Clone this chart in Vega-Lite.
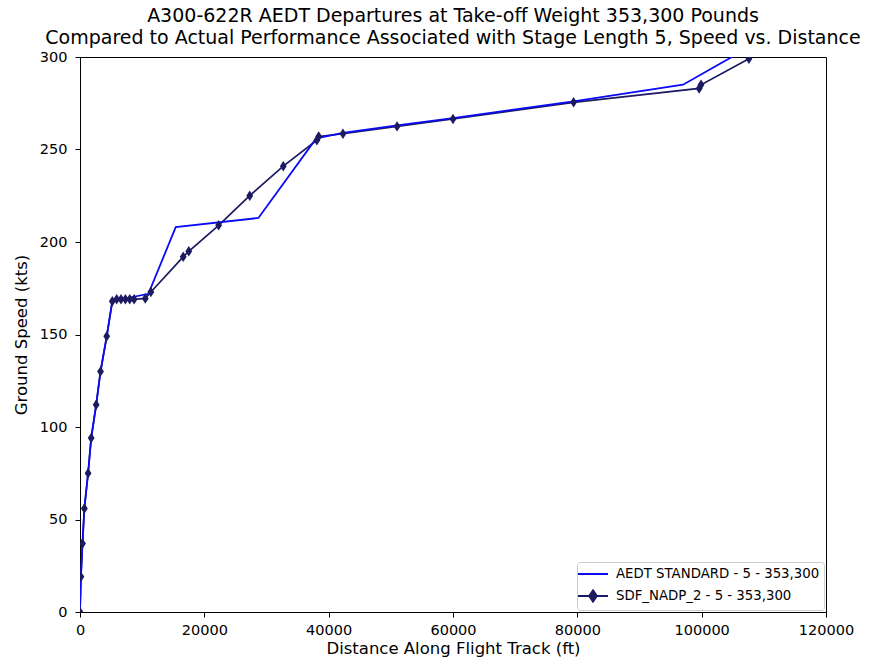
{
  "$schema": "https://vega.github.io/schema/vega-lite/v6.json",
  "autosize": "none",
  "width": 746,
  "height": 555,
  "padding": {"left": 80, "top": 57, "right": 60, "bottom": 55},
  "background": "white",
  "config": {
    "font": "DejaVu Sans",
    "view": {"stroke": "black", "strokeWidth": 1},
    "axis": {
      "domainColor": "black", "tickColor": "black", "tickSize": 5, "grid": false,
      "labelFont": "DejaVu Sans", "labelFontSize": 14.5, "labelColor": "black",
      "titleFont": "DejaVu Sans", "titleFontSize": 16.5, "titleFontWeight": "normal", "titleColor": "black",
      "labelFlush": false, "labelOverlap": false
    },
    "legend": {
      "title": null, "orient": "bottom-right", "offset": 2,
      "labelFont": "DejaVu Sans", "labelFontSize": 13.3, "labelColor": "black", "labelLimit": 400,
      "symbolSize": 196, "symbolStrokeWidth": 2, "symbolOffset": 4, "labelOffset": 15,
      "strokeColor": "#cccccc", "fillColor": "white", "cornerRadius": 3,
      "padding": 4, "rowPadding": 5
    },
    "title": {"font": "DejaVu Sans", "fontSize": 19, "fontWeight": "normal", "color": "black", "anchor": "middle", "offset": 1, "lineHeight": 22}
  },
  "title": {"text": ["A300-622R AEDT Departures at Take-off Weight 353,300 Pounds", "Compared to Actual Performance Associated with Stage Length 5, Speed vs. Distance"]},
  "data": {"values": [
    {"series": "SDF_NADP_2 - 5 - 353,300", "order": 1, "x": 0, "y": 0},
    {"series": "SDF_NADP_2 - 5 - 353,300", "order": 2, "x": 150, "y": 19},
    {"series": "SDF_NADP_2 - 5 - 353,300", "order": 3, "x": 400, "y": 37},
    {"series": "SDF_NADP_2 - 5 - 353,300", "order": 4, "x": 700, "y": 56},
    {"series": "SDF_NADP_2 - 5 - 353,300", "order": 5, "x": 1300, "y": 75},
    {"series": "SDF_NADP_2 - 5 - 353,300", "order": 6, "x": 1800, "y": 94},
    {"series": "SDF_NADP_2 - 5 - 353,300", "order": 7, "x": 2600, "y": 112},
    {"series": "SDF_NADP_2 - 5 - 353,300", "order": 8, "x": 3300, "y": 130},
    {"series": "SDF_NADP_2 - 5 - 353,300", "order": 9, "x": 4300, "y": 149},
    {"series": "SDF_NADP_2 - 5 - 353,300", "order": 10, "x": 5200, "y": 168},
    {"series": "SDF_NADP_2 - 5 - 353,300", "order": 11, "x": 5900, "y": 169},
    {"series": "SDF_NADP_2 - 5 - 353,300", "order": 12, "x": 6600, "y": 169},
    {"series": "SDF_NADP_2 - 5 - 353,300", "order": 13, "x": 7300, "y": 169},
    {"series": "SDF_NADP_2 - 5 - 353,300", "order": 14, "x": 8000, "y": 169},
    {"series": "SDF_NADP_2 - 5 - 353,300", "order": 15, "x": 8700, "y": 169},
    {"series": "SDF_NADP_2 - 5 - 353,300", "order": 16, "x": 10500, "y": 169.5},
    {"series": "SDF_NADP_2 - 5 - 353,300", "order": 17, "x": 11400, "y": 173},
    {"series": "SDF_NADP_2 - 5 - 353,300", "order": 18, "x": 16600, "y": 192},
    {"series": "SDF_NADP_2 - 5 - 353,300", "order": 19, "x": 17500, "y": 195},
    {"series": "SDF_NADP_2 - 5 - 353,300", "order": 20, "x": 22300, "y": 209},
    {"series": "SDF_NADP_2 - 5 - 353,300", "order": 21, "x": 27300, "y": 225},
    {"series": "SDF_NADP_2 - 5 - 353,300", "order": 22, "x": 32700, "y": 241},
    {"series": "SDF_NADP_2 - 5 - 353,300", "order": 23, "x": 38100, "y": 255},
    {"series": "SDF_NADP_2 - 5 - 353,300", "order": 24, "x": 38400, "y": 257},
    {"series": "SDF_NADP_2 - 5 - 353,300", "order": 25, "x": 42300, "y": 258.5},
    {"series": "SDF_NADP_2 - 5 - 353,300", "order": 26, "x": 51000, "y": 262.5},
    {"series": "SDF_NADP_2 - 5 - 353,300", "order": 27, "x": 60000, "y": 266.5},
    {"series": "SDF_NADP_2 - 5 - 353,300", "order": 28, "x": 79400, "y": 275.5},
    {"series": "SDF_NADP_2 - 5 - 353,300", "order": 29, "x": 99600, "y": 283},
    {"series": "SDF_NADP_2 - 5 - 353,300", "order": 30, "x": 99900, "y": 285},
    {"series": "SDF_NADP_2 - 5 - 353,300", "order": 31, "x": 107600, "y": 299},
    {"series": "AEDT STANDARD - 5 - 353,300", "order": 1, "x": 0, "y": 0},
    {"series": "AEDT STANDARD - 5 - 353,300", "order": 2, "x": 150, "y": 19},
    {"series": "AEDT STANDARD - 5 - 353,300", "order": 3, "x": 400, "y": 37},
    {"series": "AEDT STANDARD - 5 - 353,300", "order": 4, "x": 700, "y": 56},
    {"series": "AEDT STANDARD - 5 - 353,300", "order": 5, "x": 1300, "y": 75},
    {"series": "AEDT STANDARD - 5 - 353,300", "order": 6, "x": 1800, "y": 94},
    {"series": "AEDT STANDARD - 5 - 353,300", "order": 7, "x": 2600, "y": 112},
    {"series": "AEDT STANDARD - 5 - 353,300", "order": 8, "x": 3300, "y": 130},
    {"series": "AEDT STANDARD - 5 - 353,300", "order": 9, "x": 4300, "y": 149},
    {"series": "AEDT STANDARD - 5 - 353,300", "order": 10, "x": 5200, "y": 168},
    {"series": "AEDT STANDARD - 5 - 353,300", "order": 11, "x": 11000, "y": 172},
    {"series": "AEDT STANDARD - 5 - 353,300", "order": 12, "x": 15400, "y": 208},
    {"series": "AEDT STANDARD - 5 - 353,300", "order": 13, "x": 28700, "y": 213},
    {"series": "AEDT STANDARD - 5 - 353,300", "order": 14, "x": 38000, "y": 256},
    {"series": "AEDT STANDARD - 5 - 353,300", "order": 15, "x": 42300, "y": 259},
    {"series": "AEDT STANDARD - 5 - 353,300", "order": 16, "x": 51000, "y": 263},
    {"series": "AEDT STANDARD - 5 - 353,300", "order": 17, "x": 60000, "y": 267},
    {"series": "AEDT STANDARD - 5 - 353,300", "order": 18, "x": 79400, "y": 276},
    {"series": "AEDT STANDARD - 5 - 353,300", "order": 19, "x": 97000, "y": 285},
    {"series": "AEDT STANDARD - 5 - 353,300", "order": 20, "x": 108000, "y": 306}
  ]},
  "encoding": {
    "x": {"field": "x", "type": "quantitative", "scale": {"domain": [0, 120000], "nice": false},
      "axis": {"title": "Distance Along Flight Track (ft)", "values": [0, 20000, 40000, 60000, 80000, 100000, 120000], "format": "d", "labelPadding": 6, "titlePadding": 4}},
    "y": {"field": "y", "type": "quantitative", "scale": {"domain": [0, 300], "nice": false},
      "axis": {"title": "Ground Speed (kts)", "values": [0, 50, 100, 150, 200, 250, 300], "labelPadding": 8, "titlePadding": 10}}
  },
  "layer": [
    {
      "transform": [{"filter": "datum.series === 'SDF_NADP_2 - 5 - 353,300'"}],
      "mark": {"type": "line", "clip": true, "strokeWidth": 1.7},
      "encoding": {
        "order": {"field": "order", "type": "quantitative"},
        "color": {"field": "series", "type": "nominal",
          "scale": {"domain": ["AEDT STANDARD - 5 - 353,300", "SDF_NADP_2 - 5 - 353,300"], "range": ["#0a0af5", "#1c1a60"]},
          "legend": {
            "encode": {"symbols": {"update": {
              "shape": [{"test": "datum.value === 'SDF_NADP_2 - 5 - 353,300'", "value": "M-2.14,0H2.14M0,-0.8L0.55,0L0,0.8L-0.55,0Z"}, {"value": "M-2.14,0H2.14"}],
              "fill": [{"test": "datum.value === 'SDF_NADP_2 - 5 - 353,300'", "value": "#1c1a60"}, {"value": "transparent"}]
            }}}
          }}
      }
    },
    {
      "transform": [{"filter": "datum.series === 'AEDT STANDARD - 5 - 353,300'"}],
      "mark": {"type": "line", "clip": true, "strokeWidth": 1.8},
      "encoding": {
        "order": {"field": "order", "type": "quantitative"},
        "color": {"field": "series", "type": "nominal",
          "legend": {
            "encode": {"symbols": {"update": {
              "shape": [{"test": "datum.value === 'SDF_NADP_2 - 5 - 353,300'", "value": "M-2.14,0H2.14M0,-0.8L0.55,0L0,0.8L-0.55,0Z"}, {"value": "M-2.14,0H2.14"}],
              "fill": [{"test": "datum.value === 'SDF_NADP_2 - 5 - 353,300'", "value": "#1c1a60"}, {"value": "transparent"}]
            }}}
          }}
      }
    },
    {
      "transform": [{"filter": "datum.series === 'SDF_NADP_2 - 5 - 353,300'"}],
      "mark": {"type": "point", "shape": "M0,-1L0.65,0L0,1L-0.65,0Z", "size": 110, "filled": true, "opacity": 1, "color": "#1c1a60", "clip": true},
      "encoding": {}
    }
  ]
}
